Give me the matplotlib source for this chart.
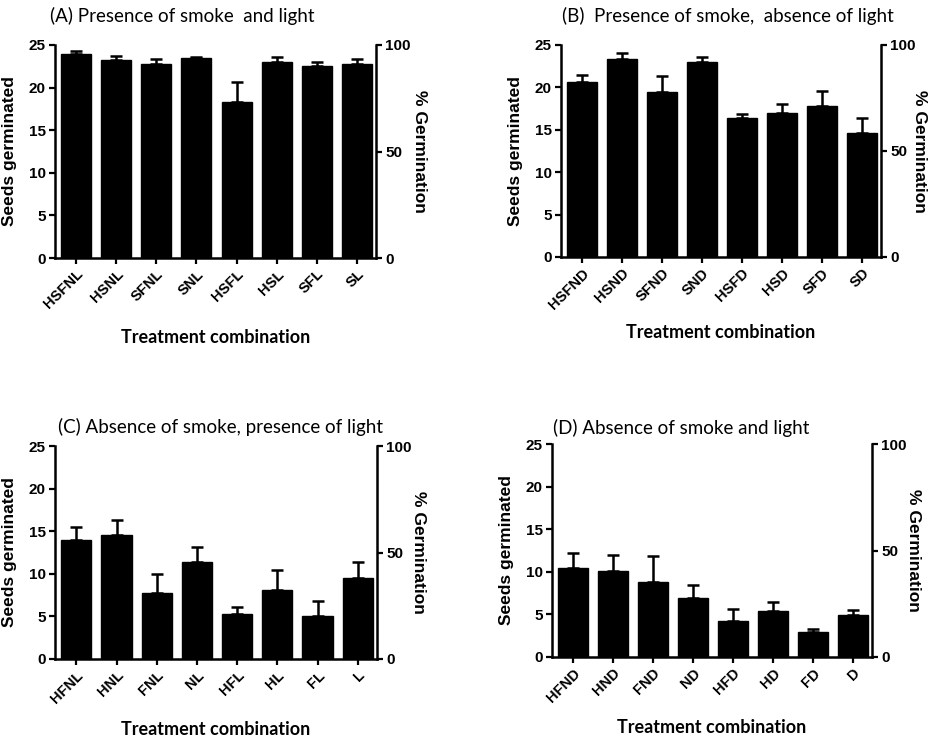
import numpy as np
import matplotlib
matplotlib.use("Agg")
import matplotlib.pyplot as plt

plt.rcParams['font.family'] = ['Liberation Sans Narrow', 'Liberation Sans', 'DejaVu Sans']

# mean seeds germinated (of 25) and SEM for each treatment
labels_a = ["HSFNL", "HSNL", "SFNL", "SNL", "HSFL", "HSL", "SFL", "SL"]
mean_a = [24.0, 23.2, 22.8, 23.5, 18.3, 23.0, 22.5, 22.8]
err_a = [0.35, 0.5, 0.6, 0.15, 2.4, 0.55, 0.5, 0.5]

labels_b = ["HSFND", "HSND", "SFND", "SND", "HSFD", "HSD", "SFD", "SD"]
mean_b = [20.6, 23.35, 19.4, 22.95, 16.35, 16.95, 17.8, 14.6]
err_b = [0.9, 0.65, 1.9, 0.65, 0.55, 1.15, 1.8, 1.8]

labels_c = ["HFNL", "HNL", "FNL", "NL", "HFL", "HL", "FL", "L"]
mean_c = [14.0, 14.6, 7.8, 11.4, 5.3, 8.05, 5.0, 9.5]
err_c = [1.5, 1.7, 2.15, 1.8, 0.8, 2.45, 1.8, 1.9]

labels_d = ["HFND", "HND", "FND", "ND", "HFD", "HD", "FD", "D"]
mean_d = [10.4, 10.1, 8.8, 6.95, 4.2, 5.4, 2.9, 4.9]
err_d = [1.75, 1.9, 3.0, 1.45, 1.45, 1.0, 0.35, 0.65]

titles = ["(A) Presence of smoke  and light",
          "(B)  Presence of smoke,  absence of light",
          "(C) Absence of smoke, presence of light",
          "(D) Absence of smoke and light"]

W, H = 929, 740
fig = plt.figure(figsize=(W / 100, H / 100), dpi=100)


def px_rect(left, top, right, bottom):
    return [left / W, 1 - bottom / H, (right - left) / W, (bottom - top) / H]


def draw_panel(rect, title, title_xy, labels, means, errs, xlab_y, rlab_x):
    ax = fig.add_axes(rect)
    x = np.arange(len(labels))
    ax.bar(x, means, width=0.75, color="black", edgecolor="black", zorder=2)
    ax.errorbar(x, means, yerr=[np.zeros(len(errs)), errs], fmt="none",
                ecolor="black", elinewidth=1.8, capsize=4.5, capthick=1.8, zorder=1)
    ax.set_xlim(-0.53, len(labels) - 0.52)
    ax.set_ylim(0, 25)
    ax.set_yticks(np.arange(0, 26, 5))
    ax.set_xticks(x)
    ax.set_xticklabels(labels, rotation=45, ha="right", rotation_mode="anchor",
                       fontsize=10.5, fontweight="bold")
    for t in ax.get_yticklabels():
        t.set_fontsize(11)
        t.set_fontweight("bold")
    ax.tick_params(width=1.6, length=4.5, direction="out", pad=2)
    ax.spines["top"].set_visible(False)
    ax.spines["right"].set_visible(False)
    for s in ("left", "bottom"):
        ax.spines[s].set_linewidth(1.8)
    ax.set_ylabel("Seeds germinated", fontsize=12.5, fontweight="bold")
    ax.yaxis.set_label_coords(-0.118, 0.5)
    ax.set_xlabel("Treatment combination", fontsize=13, fontweight="bold",
                  family=["Lato", "DejaVu Sans"], va="center")
    ax.xaxis.set_label_coords(0.5, xlab_y)

    ax2 = ax.twinx()
    ax2.set_ylim(0, 100)
    ax2.set_yticks([0, 50, 100])
    for t in ax2.get_yticklabels():
        t.set_fontsize(11)
        t.set_fontweight("bold")
    ax2.tick_params(width=1.6, length=4.5, direction="out", pad=2)
    for s in ("top", "left", "bottom"):
        ax2.spines[s].set_visible(False)
    ax2.spines["right"].set_linewidth(1.8)
    ax2.set_ylabel("% Germination", fontsize=12.5, fontweight="bold",
                   rotation=-90, va="center")
    ax2.yaxis.set_label_coords(rlab_x, 0.5)

    fig.text(title_xy[0] / W, 1 - title_xy[1] / H, title, fontsize=13.5,
             family=["Lato", "DejaVu Sans"], va="center", ha="left")
    return ax


draw_panel(px_rect(55, 45, 376, 258), titles[0], (50, 16), labels_a, mean_a, err_a, -0.371, 1.135)
draw_panel(px_rect(561, 45, 881, 257), titles[1], (562, 16), labels_b, mean_b, err_b, -0.358, 1.12)
draw_panel(px_rect(55, 446, 377, 659), titles[2], (58, 427), labels_c, mean_c, err_c, -0.333, 1.13)
draw_panel(px_rect(552, 444, 872, 657), titles[3], (553, 428), labels_d, mean_d, err_d, -0.333, 1.13)

fig.savefig("out.png", dpi=100)
